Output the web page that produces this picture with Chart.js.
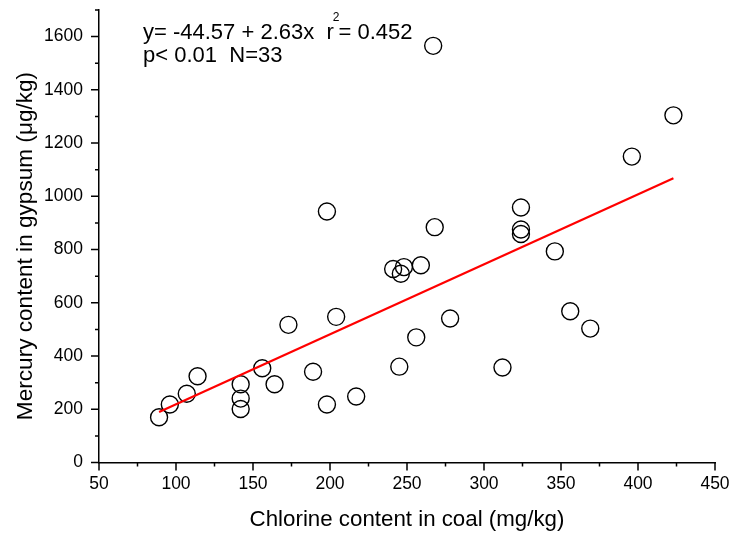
<!DOCTYPE html>
<html>
<head>
<meta charset="utf-8">
<script src="https://cdn.jsdelivr.net/npm/chart.js@4.4.1/dist/chart.umd.min.js"></script>
<style>
  html, body { margin: 0; padding: 0; background: #fff; }
  canvas { display: block; }
</style>
</head>
<body>
<canvas id="chart" width="731" height="534"></canvas>
<script>
// chlorine in coal (mg/kg) vs mercury in gypsum (ug/kg), N = 33
const chlorine = [89, 96, 107, 114, 142, 142, 142, 156, 164, 173, 189, 198, 198, 204, 217,
  267, 268, 324, 324, 324, 346, 241, 248, 246, 259, 278, 256, 245, 312, 356, 369, 423, 396];
const mercury = [170, 218, 258, 324, 294, 240, 201, 354, 294, 517, 341, 218, 943, 547, 248,
  1565, 884, 958, 875, 858, 793, 727, 734, 709, 741, 541, 470, 360, 357, 568, 503, 1304, 1149];

// fitted line, read at its two ends
const fitX = [89, 423];
const fitY = [190, 1068];

const xTicks = [50, 100, 150, 200, 250, 300, 350, 400, 450];
const xMinor = [75, 125, 175, 225, 275, 325, 375, 425];
const yTicks = [0, 200, 400, 600, 800, 1000, 1200, 1400, 1600];
const yMinor = [100, 300, 500, 700, 900, 1100, 1300, 1500, 1700];

const yTitle = 'Mercury content in gypsum (μg/kg)';
const statLine1 = 'y= -44.57 + 2.63x  r';
const statSup = '2';
const statLine1b = '= 0.452';
const statLine2 = 'p< 0.01  N=33';

const FONT = '"Liberation Sans", Arial, sans-serif';
Chart.defaults.font.family = FONT;
Chart.defaults.color = '#000';

// short outward tick marks, major and minor
const tickMarks = {
  id: 'tickMarks',
  afterDraw(chart) {
    const { ctx, scales: { x, y } } = chart;
    ctx.save();
    ctx.strokeStyle = '#000';
    ctx.lineWidth = 1.5;
    ctx.beginPath();
    const xt = (v, len) => {
      const px = x.getPixelForValue(v);
      ctx.moveTo(px, y.bottom);
      ctx.lineTo(px, y.bottom + len);
    };
    const yt = (v, len) => {
      const py = y.getPixelForValue(v);
      ctx.moveTo(x.left, py);
      ctx.lineTo(x.left - len, py);
    };
    xTicks.forEach(v => xt(v, 8));
    xMinor.forEach(v => xt(v, 4));
    yTicks.forEach(v => yt(v, 8));
    yMinor.forEach(v => yt(v, 4));
    ctx.stroke();
    ctx.restore();
  }
};

// regression text in the upper left, and the y axis title
const statText = {
  id: 'statText',
  afterDraw(chart) {
    const { ctx, chartArea } = chart;
    const x0 = chartArea.left + 44;
    const y0 = chartArea.top + 29;
    ctx.save();
    ctx.fillStyle = '#000';
    ctx.textBaseline = 'alphabetic';
    ctx.textAlign = 'left';
    ctx.font = '22px ' + FONT;
    ctx.fillText(statLine1, x0, y0);
    let w = ctx.measureText(statLine1).width - 1;
    ctx.font = '12px ' + FONT;
    ctx.fillText(statSup, x0 + w, y0 - 18);
    w += ctx.measureText(statSup).width - 1;
    ctx.font = '22px ' + FONT;
    ctx.fillText(statLine1b, x0 + w, y0);
    ctx.fillText(statLine2, x0, y0 + 23);

    ctx.translate(26, 246);
    ctx.rotate(-Math.PI / 2);
    ctx.textAlign = 'center';
    ctx.textBaseline = 'middle';
    ctx.font = '22.6px ' + FONT;
    ctx.fillText(yTitle, 0, 0);
    ctx.restore();
  }
};

const noPad = s => {
  s.paddingTop = 0;
  s.paddingBottom = 0;
  s.paddingLeft = 0;
  s.paddingRight = 0;
};

const ctx = document.getElementById('chart').getContext('2d');

new Chart(ctx, {
  type: 'scatter',
  data: {
    datasets: [
      {
        label: 'fit',
        data: fitX.map((v, i) => ({ x: v, y: fitY[i] })),
        showLine: true,
        borderColor: '#ff0000',
        borderWidth: 2.2,
        pointRadius: 0,
        order: 0,
      },
      {
        label: 'samples',
        data: chlorine.map((v, i) => ({ x: v, y: mercury[i] })),
        pointRadius: 8.5,
        pointBorderWidth: 1.4,
        borderColor: '#000',
        backgroundColor: 'rgba(0,0,0,0)',
        order: 1,
      }
    ]
  },
  options: {
    responsive: false,
    animation: false,
    layout: { padding: { top: 6, right: 16, bottom: 0, left: 0 } },
    plugins: { legend: { display: false }, tooltip: { enabled: false } },
    scales: {
      x: {
        type: 'linear',
        min: 50,
        max: 450,
        afterFit: s => { s.height = 71.5; noPad(s); },
        ticks: {
          stepSize: 50,
          padding: 11,
          maxRotation: 0,
          autoSkip: false,
          color: '#000',
          font: { size: 17.5 },
          callback: v => (xTicks.includes(v) ? v : '')
        },
        grid: { drawOnChartArea: false, drawTicks: false },
        border: { color: '#000', width: 1.5 },
        title: {
          display: true,
          text: 'Chlorine content in coal (mg/kg)',
          color: '#000',
          font: { size: 22.3 },
          padding: { top: 0, bottom: 1 }
        }
      },
      y: {
        type: 'linear',
        min: 0,
        max: 1700,
        afterFit: s => { s.width = 99; noPad(s); },
        ticks: {
          stepSize: 200,
          padding: 16,
          autoSkip: false,
          color: '#000',
          font: { size: 17.5 },
          callback: v => (yTicks.includes(v) ? v : '')
        },
        grid: { drawOnChartArea: false, drawTicks: false },
        border: { color: '#000', width: 1.5 },
        title: { display: false }
      }
    }
  },
  plugins: [tickMarks, statText]
});
</script>
</body>
</html>
